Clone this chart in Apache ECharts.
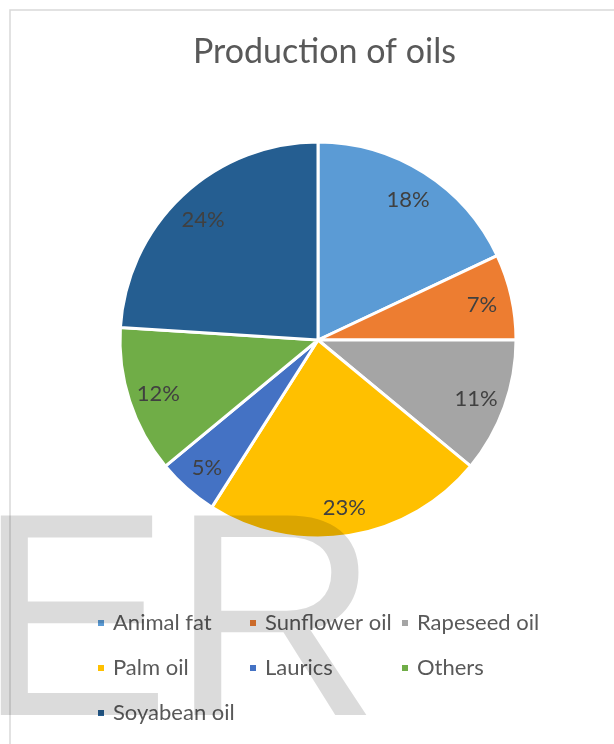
<!DOCTYPE html>
<html>
<head>
<meta charset="utf-8">
<script src="https://cdn.jsdelivr.net/npm/echarts@6/dist/echarts.min.js"></script>
<style>html,body{margin:0;padding:0;background:#fff}#c{width:614px;height:744px}</style>
</head>
<body>
<div id="c"></div>
<script>
const categories = ['Animal fat','Sunflower oil','Rapeseed oil','Palm oil','Laurics','Others','Soyabean oil'];
const values = [18, 7, 11, 23, 5, 12, 24];
const colors = ['#5B9BD5','#ED7D31','#A5A5A5','#FFC000','#4472C4','#70AD47','#255E91'];
const legendCols = [['Animal fat','Palm oil','Soyabean oil'],['Sunflower oil','Laurics'],['Rapeseed oil','Others']];

const FONT = 'Lato';
const chart = echarts.init(document.getElementById('c'));
const pieData = categories.map((n,i)=>({name:n,value:values[i],itemStyle:{color:colors[i]}}));
const legendLefts = [91, 243, 395];
chart.setOption({
  animation:false,
  title:{text:'Production of oils',left:188,top:30,textStyle:{fontFamily:FONT,fontSize:34,fontWeight:'normal',color:'#595959'}},
  legend: legendCols.map((col,k)=>({
    data: col, orient:'vertical', left: legendLefts[k], top: 606, itemGap: 21,
    icon:'rect', itemWidth:8, itemHeight:8,
    textStyle:{fontFamily:FONT,fontSize:22,lineHeight:24,color:'#595959',padding:[0,0,0,3]}, selectedMode:false
  })),
  series:[
    {type:'pie',center:[318,340],radius:[0,198],startAngle:90,clockwise:true,silent:true,
     data:pieData,label:{show:false},labelLine:{show:false},
     itemStyle:{borderColor:'#fff',borderWidth:3}},
    {type:'pie',center:[318,342],radius:[134,196],startAngle:90,clockwise:true,silent:true,
     data:categories.map((n,i)=>({name:n,value:values[i]})),
     itemStyle:{color:'rgba(0,0,0,0)'},
     label:{show:true,position:'inside',formatter:'{d}%',fontFamily:FONT,fontSize:22,color:'#404040'},
     labelLine:{show:false}}
  ],
  graphic:[
    {type:'rect',z:-10,shape:{x:10,y:10,width:700,height:800},style:{fill:'none',stroke:'#d9d9d9',lineWidth:1.5}},
    {type:'text',z:100,left:-23,top:490,style:{text:'ER',font:'290px "Liberation Sans"',fill:'rgba(0,0,0,0.14)'}}
  ]
});
</script>
</body>
</html>
